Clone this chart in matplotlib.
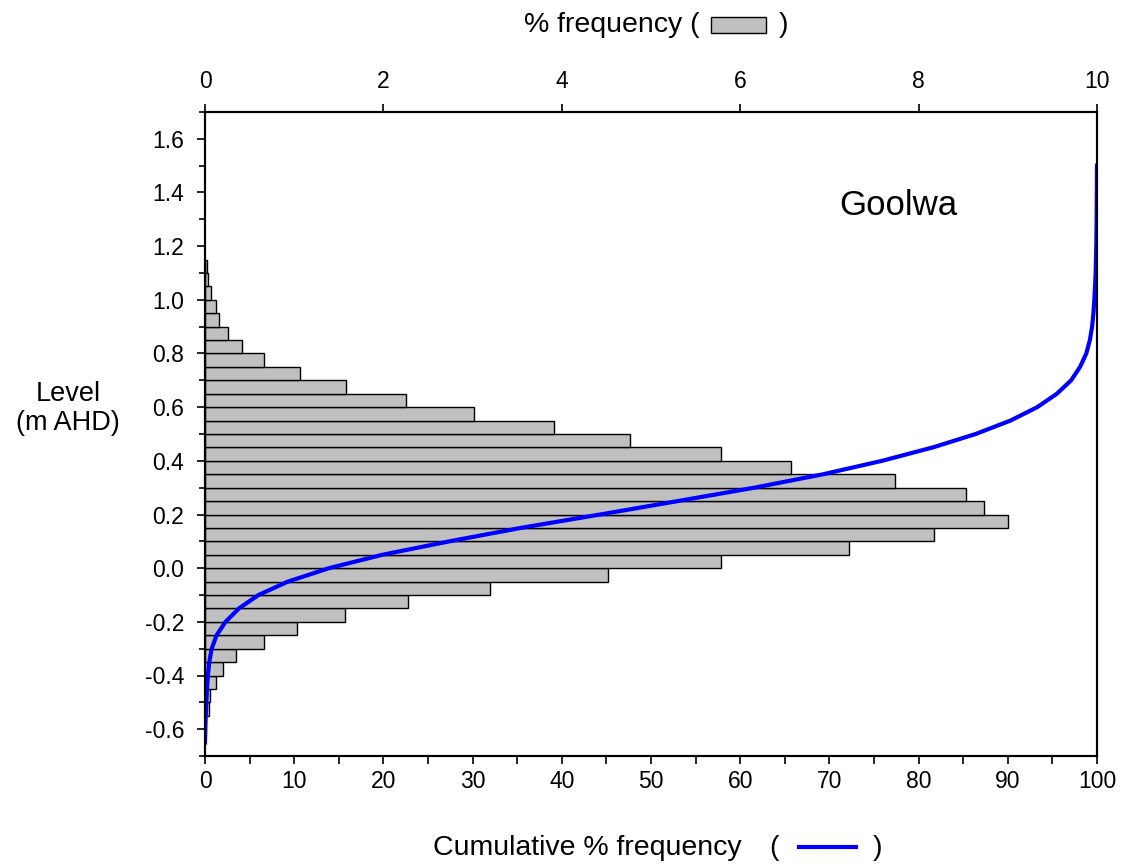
import matplotlib.pyplot as plt
import matplotlib.patches as mpatches
from matplotlib.lines import Line2D
from matplotlib.ticker import MultipleLocator, FormatStrFormatter

plt.rcParams['font.family'] = ['Liberation Sans', 'DejaVu Sans']
plt.rcParams['axes.unicode_minus'] = False

# Lower edge of each 0.05 m level bin and its % frequency
bin_lower = [-0.55, -0.50, -0.45, -0.40, -0.35, -0.30, -0.25, -0.20, -0.15, -0.10,
             -0.05, 0.00, 0.05, 0.10, 0.15, 0.20, 0.25, 0.30, 0.35, 0.40,
             0.45, 0.50, 0.55, 0.60, 0.65, 0.70, 0.75, 0.80, 0.85, 0.90,
             0.95, 1.00, 1.05, 1.10]
freq_pct = [0.05, 0.06, 0.12, 0.20, 0.35, 0.665, 1.03, 1.57, 2.28, 3.20,
            4.52, 5.79, 7.22, 8.17, 9.00, 8.73, 8.53, 7.73, 6.57, 5.78,
            4.77, 3.915, 3.02, 2.25, 1.58, 1.07, 0.665, 0.41, 0.26, 0.16,
            0.12, 0.07, 0.03, 0.02]

# Cumulative curve
cum_level = [-0.65, -0.60, -0.55, -0.50, -0.45, -0.40, -0.35, -0.30, -0.25, -0.20,
             -0.15, -0.10, -0.05, 0.00, 0.05, 0.10, 0.15, 0.20, 0.25, 0.30,
             0.35, 0.40, 0.45, 0.50, 0.55, 0.60, 0.65, 0.70, 0.75, 0.80,
             0.85, 0.90, 0.95, 1.00, 1.05, 1.10, 1.20, 1.30, 1.40, 1.50]
cum_pct = [0.0, 0.04, 0.08, 0.15, 0.22, 0.32, 0.48, 0.75, 1.3, 2.3,
           3.8, 6.0, 9.3, 13.9, 19.9, 27.4, 35.4, 44.3, 53.0, 61.6,
           69.3, 75.9, 81.6, 86.4, 90.3, 93.3, 95.5, 97.1, 98.1, 98.8,
           99.2, 99.45, 99.6, 99.7, 99.78, 99.85, 99.92, 99.96, 99.98, 100.0]

fig = plt.figure(figsize=(11.26, 8.68), dpi=100)
ax = fig.add_axes([205 / 1126, 1 - 756 / 868, 892 / 1126, 644 / 868])
ax2 = ax.twiny()

# histogram on the top (% frequency) axis
ax.barh(bin_lower, freq_pct, height=0.05, align='edge', color='#c0c0c0',
        edgecolor='black', linewidth=1.0)
ax.set_xlim(0, 10)
ax.set_ylim(-0.7, 1.7)
ax.xaxis.tick_top()
ax.xaxis.set_major_locator(MultipleLocator(2))
ax.yaxis.set_major_locator(MultipleLocator(0.2))
ax.yaxis.set_minor_locator(MultipleLocator(0.1))
ax.yaxis.set_major_formatter(FormatStrFormatter('%.1f'))
ax.tick_params(axis='x', which='major', direction='out', length=6, width=1.2,
               labelsize=16.5, pad=8, bottom=False, labelbottom=False)
ax.tick_params(axis='y', which='major', direction='out', length=6, width=1.2,
               labelsize=16.5, pad=9, right=False)
ax.tick_params(axis='y', which='minor', direction='out', length=4, width=1.2, right=False)

# cumulative curve on the bottom axis
ax2.plot(cum_pct, cum_level, color='#0000ff', linewidth=3)
ax2.set_xlim(0, 100)
ax2.set_ylim(-0.7, 1.7)
ax2.xaxis.tick_bottom()
ax2.xaxis.set_major_locator(MultipleLocator(10))
ax2.xaxis.set_minor_locator(MultipleLocator(5))
ax2.tick_params(axis='x', which='both', direction='out', length=6, width=1.2,
                labelsize=16.5, pad=4, top=False, labeltop=False)

for a in (ax, ax2):
    for s in a.spines.values():
        s.set_linewidth(1.5)

ax.text(0.777, 0.855, 'Goolwa', transform=ax.transAxes, fontsize=25,
        ha='center', va='center')

fig.text(68 / 1126, 1 - 409 / 868, 'Level\n(m AHD)', fontsize=19.5,
         ha='center', va='center', linespacing=1.15)

# top axis title with a bar swatch
fig.text(700 / 1126, 1 - 25 / 868, '% frequency (', fontsize=20.5, ha='right', va='center')
fig.patches.append(mpatches.Rectangle((711 / 1126, 1 - 33 / 868), 55 / 1126, 16 / 868,
                                      transform=fig.transFigure, facecolor='#c0c0c0',
                                      edgecolor='black', linewidth=1.0))
fig.text(779 / 1126, 1 - 25 / 868, ')', fontsize=20.5, ha='left', va='center')

# bottom axis title with a line swatch
fig.text(742 / 1126, 1 - 848 / 868, 'Cumulative % frequency', fontsize=20.5,
         ha='right', va='center')
fig.text(769 / 1126, 1 - 848 / 868, '(', fontsize=20.5, ha='left', va='center')
fig.lines.append(Line2D([799 / 1126, 856 / 1126], [1 - 847 / 868, 1 - 847 / 868],
                        transform=fig.transFigure, color='#0000ff', linewidth=3))
fig.text(873 / 1126, 1 - 848 / 868, ')', fontsize=20.5, ha='left', va='center')

fig.savefig('out.png', dpi=100)
